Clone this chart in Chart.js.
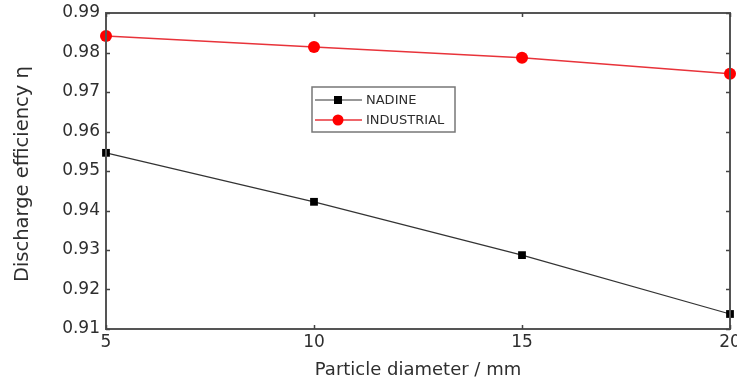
<!DOCTYPE html>
<html>
<head>
<meta charset="utf-8">
<script src="https://cdn.jsdelivr.net/npm/chart.js@4/dist/chart.umd.min.js"></script>
<style>
  html, body { margin: 0; padding: 0; background: #fff; }
  #wrap { width: 737px; height: 381px; }
</style>
</head>
<body>
<div id="wrap"><canvas id="c" width="737" height="381"></canvas></div>
<script>
// Particle diameter (mm)
const diameters = [5, 10, 15, 20];
// Discharge efficiency for each design
const nadine = [0.9546, 0.9422, 0.9287, 0.9138];
const industrial = [0.9842, 0.9814, 0.9787, 0.9746];
// Axis ticks
const xTicks = [5, 10, 15, 20];
const yTicks = [0.91, 0.92, 0.93, 0.94, 0.95, 0.96, 0.97, 0.98, 0.99];

const FONT = "'DejaVu Sans', sans-serif";
const TEXT = '#2e2e2e';
const FRAME = '#555';

// Closed box frame with inward tick marks on all four sides
const framePlugin = {
  id: 'frame',
  afterDraw(chart) {
    const { ctx, chartArea: a, scales } = chart;
    ctx.save();
    ctx.strokeStyle = FRAME;
    ctx.lineWidth = 2;
    ctx.strokeRect(a.left, a.top, a.right - a.left, a.bottom - a.top);
    ctx.lineWidth = 1.5;
    ctx.strokeStyle = '#444';
    const L = 4;
    ctx.beginPath();
    xTicks.forEach(v => {
      const x = Math.round(scales.x.getPixelForValue(v)) + 0.5;
      ctx.moveTo(x, a.bottom); ctx.lineTo(x, a.bottom - L);
      ctx.moveTo(x, a.top); ctx.lineTo(x, a.top + L);
    });
    yTicks.forEach(v => {
      const y = Math.round(scales.y.getPixelForValue(v)) + 0.5;
      ctx.moveTo(a.left, y); ctx.lineTo(a.left + L, y);
      ctx.moveTo(a.right, y); ctx.lineTo(a.right - L, y);
    });
    ctx.stroke();
    ctx.restore();
  }
};

// Boxed legend inside the plot
const legendPlugin = {
  id: 'boxLegend',
  afterDatasetsDraw(chart) {
    const { ctx } = chart;
    const bx = 312, by = 87, bw = 143, bh = 45;
    ctx.save();
    ctx.fillStyle = '#fff';
    ctx.fillRect(bx, by, bw, bh);
    ctx.strokeStyle = '#777';
    ctx.lineWidth = 1.5;
    ctx.strokeRect(bx, by, bw, bh);
    chart.data.datasets.forEach((ds, i) => {
      const y = 100 + i * 20;
      ctx.strokeStyle = ds.borderColor;
      ctx.lineWidth = ds.borderWidth;
      ctx.beginPath();
      ctx.moveTo(315, y); ctx.lineTo(362, y);
      ctx.stroke();
      ctx.fillStyle = ds.pointBackgroundColor;
      if (ds.pointStyle === 'rect') {
        ctx.fillRect(338 - 4, y - 4, 8, 8);
      } else {
        ctx.beginPath();
        ctx.arc(338, y, 5.5, 0, Math.PI * 2);
        ctx.fill();
      }
      ctx.fillStyle = TEXT;
      ctx.font = '13px ' + FONT;
      ctx.textBaseline = 'middle';
      ctx.textAlign = 'left';
      ctx.fillText(ds.label, 366, y + 1);
    });
    ctx.restore();
  }
};

new Chart(document.getElementById('c'), {
  type: 'line',
  data: {
    datasets: [
      {
        label: 'NADINE',
        data: diameters.map((d, i) => ({ x: d, y: nadine[i] })),
        borderColor: '#333',
        borderWidth: 1.2,
        pointStyle: 'rect',
        pointRadius: 5.5,
        pointBackgroundColor: '#000',
        pointBorderWidth: 0,
        tension: 0
      },
      {
        label: 'INDUSTRIAL',
        data: diameters.map((d, i) => ({ x: d, y: industrial[i] })),
        borderColor: '#e8333a',
        borderWidth: 1.5,
        pointStyle: 'circle',
        pointRadius: 6,
        pointBackgroundColor: '#ff0000',
        pointBorderWidth: 0,
        tension: 0
      }
    ]
  },
  options: {
    responsive: false,
    animation: false,
    clip: false,
    layout: { padding: { top: 13, right: 7, left: 0, bottom: 0 } },
    plugins: { legend: { display: false }, tooltip: { enabled: false } },
    scales: {
      x: {
        type: 'linear',
        min: 5, max: 20,
        afterBuildTicks(s) { s.ticks = xTicks.map(v => ({ value: v })); },
        afterFit(s) { s.height = 52; s.paddingLeft = 0; s.paddingRight = 0; },
        grid: { display: false, drawTicks: false },
        border: { display: false },
        ticks: { color: TEXT, font: { family: FONT, size: 17 }, padding: 3, maxRotation: 0 },
        title: {
          display: true, text: 'Particle diameter / mm',
          color: TEXT, font: { family: FONT, size: 18 }, padding: { top: 1, bottom: 0 }
        }
      },
      y: {
        min: 0.91, max: 0.99,
        afterBuildTicks(s) { s.ticks = yTicks.map(v => ({ value: v })); },
        afterFit(s) { s.width = 106; s.paddingTop = 0; s.paddingBottom = 0; },
        grid: { display: false, drawTicks: false },
        border: { display: false },
        ticks: {
          color: TEXT, font: { family: FONT, size: 17 }, padding: 6,
          callback: v => v.toFixed(2)
        },
        title: {
          display: true, text: 'Discharge efficiency η ',
          color: TEXT, font: { family: FONT, size: 19.5 }, padding: { top: 11, bottom: 0 }
        }
      }
    }
  },
  plugins: [framePlugin, legendPlugin]
});
</script>
</body>
</html>
